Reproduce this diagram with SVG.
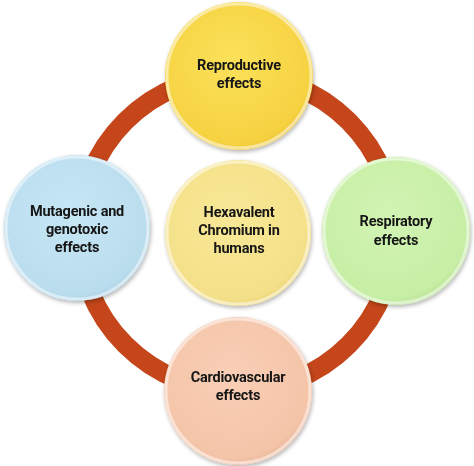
<svg xmlns="http://www.w3.org/2000/svg" width="474" height="466" viewBox="0 0 474 466">
<defs>
<style>
.lbl{font-family:Roboto,"Liberation Sans",Arial,sans-serif;font-weight:bold;font-size:14.5px;letter-spacing:-0.2px;fill:#141414;text-anchor:middle}
.ring{fill:none;stroke:#C4461A;stroke-width:19}
.edge{fill:none;stroke:#ffffff;stroke-opacity:0.5;stroke-width:3}
</style>
<filter id="sh" x="-20%" y="-20%" width="140%" height="140%">
<feGaussianBlur in="SourceAlpha" stdDeviation="2"/>
<feOffset dx="1" dy="2" result="b"/>
<feComponentTransfer><feFuncA type="linear" slope="0.3"/></feComponentTransfer>
<feMerge><feMergeNode/><feMergeNode in="SourceGraphic"/></feMerge>
</filter>
<radialGradient id="gY" cx="0.45" cy="0.4" r="0.65"><stop offset="0" stop-color="#FBE15A"/><stop offset="0.85" stop-color="#F6D241"/><stop offset="1" stop-color="#E9BE2E"/></radialGradient>
<radialGradient id="gB" cx="0.45" cy="0.4" r="0.65"><stop offset="0" stop-color="#C6E6F4"/><stop offset="0.85" stop-color="#BADDEE"/><stop offset="1" stop-color="#A6CCDF"/></radialGradient>
<radialGradient id="gC" cx="0.45" cy="0.4" r="0.65"><stop offset="0" stop-color="#F8E897"/><stop offset="0.85" stop-color="#F4E088"/><stop offset="1" stop-color="#E6CF72"/></radialGradient>
<radialGradient id="gG" cx="0.45" cy="0.4" r="0.65"><stop offset="0" stop-color="#D2F4B4"/><stop offset="0.85" stop-color="#C6EEA4"/><stop offset="1" stop-color="#B0DC8C"/></radialGradient>
<radialGradient id="gP" cx="0.45" cy="0.4" r="0.65"><stop offset="0" stop-color="#F9CFB6"/><stop offset="0.85" stop-color="#F4C4A8"/><stop offset="1" stop-color="#E4AF92"/></radialGradient>
</defs>
<rect width="474" height="466" fill="#ffffff"/>
<g id="connectors">
<circle class="ring" cx="237" cy="233" r="158"/>
</g>
<g id="reproductive" filter="url(#sh)">
<circle cx="239" cy="76" r="74" fill="url(#gY)"/>
<circle class="edge" cx="239" cy="76" r="72"/>
<text class="lbl" x="239" y="70">Reproductive</text>
<text class="lbl" x="239" y="88">effects</text>
</g>
<g id="mutagenic" filter="url(#sh)">
<circle cx="77" cy="228" r="73" fill="url(#gB)"/>
<circle class="edge" cx="77" cy="228" r="71"/>
<text class="lbl" x="77" y="216">Mutagenic and</text>
<text class="lbl" x="77" y="234">genotoxic</text>
<text class="lbl" x="77" y="252">effects</text>
</g>
<g id="center" filter="url(#sh)">
<circle cx="238" cy="233" r="73" fill="url(#gC)"/>
<circle class="edge" cx="238" cy="233" r="71"/>
<text class="lbl" x="239" y="217">Hexavalent</text>
<text class="lbl" x="239" y="235">Chromium in</text>
<text class="lbl" x="239" y="253">humans</text>
</g>
<g id="respiratory" filter="url(#sh)">
<circle cx="396" cy="231" r="74" fill="url(#gG)"/>
<circle class="edge" cx="396" cy="231" r="72"/>
<text class="lbl" x="396" y="226">Respiratory</text>
<text class="lbl" x="396" y="245">effects</text>
</g>
<g id="cardiovascular" filter="url(#sh)">
<circle cx="238" cy="391" r="74" fill="url(#gP)"/>
<circle class="edge" cx="238" cy="391" r="72"/>
<text class="lbl" x="238" y="382">Cardiovascular</text>
<text class="lbl" x="238" y="400">effects</text>
</g>
</svg>
